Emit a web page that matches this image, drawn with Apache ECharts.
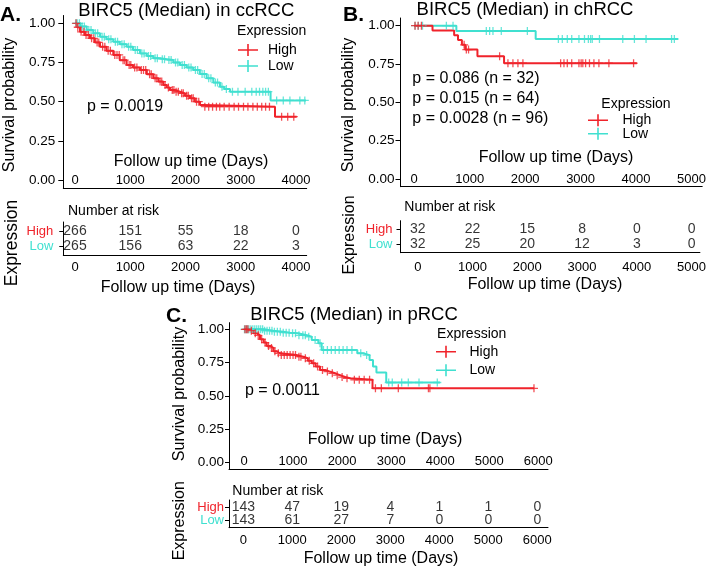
<!DOCTYPE html>
<html><head><meta charset="utf-8">
<script src="https://cdn.jsdelivr.net/npm/echarts@6/dist/echarts.min.js"></script>
<style>html,body{margin:0;padding:0;background:#fff}#c{width:709px;height:567px}</style>
</head><body><div id="c"></div>
<script>
// ================= DATA =================
// Panel A: ccRCC
const aHighT = [0,40,90,180,271,360,452,570,693,810,935,1050,1176,1300,1417,1510,1598,1660,1720,1800,1900,1990,2080,2170,2262,2320,3620];
const aHighS = [1,0.975,0.946,0.925,0.904,0.878,0.851,0.825,0.798,0.765,0.734,0.718,0.702,0.675,0.649,0.628,0.606,0.59,0.574,0.563,0.553,0.537,0.521,0.5,0.479,0.468,0.404];
const aHighEnd = 4013;
const aHighCens = [20,50,110,160,200,240,300,340,400,430,500,540,600,640,720,760,800,870,900,980,1010,1080,1120,1200,1240,1280,1350,1380,1450,1480,1540,1570,1630,1690,1760,1790,1830,1870,1930,1960,2020,2050,2110,2140,2200,2240,2350,2420,2490,2560,2620,2700,2790,2880,2960,3050,3130,3220,3300,3380,3450,3520,3740,3850,3960];
const aLowT = [0,100,212,330,452,570,693,810,935,1050,1176,1300,1417,1540,1659,1780,1900,2020,2141,2260,2383,2503,2624,2700,2805,3540];
const aLowS = [1,0.98,0.957,0.936,0.915,0.899,0.883,0.867,0.851,0.83,0.808,0.792,0.777,0.771,0.766,0.75,0.734,0.718,0.702,0.676,0.649,0.622,0.595,0.58,0.564,0.508];
const aLowEnd = 4180;
const aLowCens = [15,40,80,130,170,250,290,370,410,490,530,610,650,730,770,850,890,970,1010,1090,1130,1210,1250,1330,1370,1450,1490,1580,1620,1700,1740,1820,1860,1940,1980,2060,2100,2180,2220,2300,2340,2420,2460,2540,2580,2660,2740,2850,2950,3080,3200,3280,3340,3400,3450,3500,3650,3770,3890,4070,4160];
const aRiskTimes = [0,1000,2000,3000,4000];
const aRiskHigh = [266,151,55,18,0];
const aRiskLow = [265,156,63,22,3];
const aPText = 'p = 0.0019';

// Panel B: chRCC
const bHighT = [0,330,720,790,860,920,1140,1620];
const bHighS = [1,0.969,0.938,0.906,0.875,0.844,0.80,0.755];
const bHighEnd = 4014;
const bHighCens = [15,70,130,900,940,980,1540,1690,1780,1870,1960,2640,2700,2760,2840,2970,3010,3040,3090,3160,3240,3330,3510,3955];
const bLowT = [0,760,2190];
const bLowS = [1,0.966,0.913];
const bLowEnd = 4760;
const bLowCens = [15,75,150,580,700,1300,1360,1420,1570,2040,2600,2670,2760,2840,2970,3070,3140,3180,3210,3340,3760,3970,4180,4640,4690];
const bRiskTimes = [0,1000,2000,3000,4000,5000];
const bRiskHigh = [32,22,15,8,0,0];
const bRiskLow = [32,25,20,12,3,0];
const bPTexts = ['p = 0.086 (n = 32)','p = 0.015 (n = 64)','p = 0.0028 (n = 96)'];

// Panel C: pRCC
const cHighT = [0,120,190,260,326,400,462,530,598,666,734,1074,1209,1300,1380,1460,1550,1650,1753,1860,1957,2060,2161,2620];
const cHighS = [1,0.99,0.97,0.955,0.925,0.9,0.875,0.86,0.835,0.82,0.806,0.794,0.782,0.763,0.744,0.72,0.694,0.682,0.669,0.655,0.641,0.632,0.62,0.556];
const cHighEnd = 5918;
const cHighCens = [20,50,80,150,230,290,360,430,500,560,630,700,760,820,880,940,1000,1050,1120,1160,1250,1330,1420,1500,1600,1700,1800,1900,2000,2100,2250,2350,2450,2560,2680,2800,3146,3760,3790,5912];
const cLowT = [0,400,598,800,938,1100,1278,1380,1515,1584,2310,2430,2560,2630,2700,2900];
const cLowS = [1,0.99,0.982,0.975,0.97,0.955,0.944,0.92,0.895,0.845,0.82,0.806,0.77,0.72,0.675,0.60];
const cLowEnd = 3996;
const cLowCens = [10,40,70,100,140,180,220,260,300,340,380,420,470,520,570,620,680,740,800,860,920,990,1050,1120,1200,1250,1320,1450,1550,1620,1700,1780,1860,1940,2020,2100,2200,2380,2500,2950,3023,3215,3350,3568,3941];
const cRiskTimes = [0,1000,2000,3000,4000,5000,6000];
const cRiskHigh = [143,47,19,4,1,1,0];
const cRiskLow = [143,61,27,7,0,0,0];
const cPText = 'p = 0.0011';

const survTicks = [0,0.25,0.5,0.75,1];
const groupNames = ['High','Low'];
const groupRows = [2, 1];   // row positions in the risk table (High above Low)

// ================= STYLE / BUILD =================
const FONT = '"Liberation Sans", Arial, Helvetica, sans-serif';
const RED = '#F0232B', CYAN = '#40E0D0';
const PLUS = 'path://M4.2,0 L5.8,0 L5.8,4.2 L10,4.2 L10,5.8 L5.8,5.8 L5.8,10 L4.2,10 L4.2,5.8 L0,5.8 L0,4.2 L4.2,4.2 Z';
const LEG = 'path://M0,5.2 L9.2,5.2 L9.2,0 L10.8,0 L10.8,5.2 L20,5.2 L20,6.8 L10.8,6.8 L10.8,12 L9.2,12 L9.2,6.8 L0,6.8 Z';

function stepData(ts, ss, end){ const d = ts.map((t,i)=>[t, ss[i]]); d.push([end, ss[ss.length-1]]); return d; }
function survAt(ts, ss, t){ let s = ss[0]; for (let i=0;i<ts.length;i++){ if (ts[i] <= t) s = ss[i]; } return s; }
function censData(ts, ss, cs){ return cs.map(c => [c, survAt(ts, ss, c)]); }

const panels = [
  { plot:{left:63.3, top:15.5, width:243.4, height:172.3, min:-212, max:4194, ylabMargin:8, tick:5},
    table:{left:63.3, top:222, width:243.4, height:33, min:-212, max:4194, xlabMargin:6, ylabMargin:10},
    ticks:aRiskTimes, high:[aHighT,aHighS,aHighEnd,aHighCens], low:[aLowT,aLowS,aLowEnd,aLowCens],
    risk:[aRiskTimes,aRiskHigh,aRiskLow] },
  { plot:{left:400.5, top:18, width:303.5, height:168.7, min:-247, max:5192, ylabMargin:6, tick:5},
    table:{left:400.5, top:220.7, width:303.5, height:32, min:-315, max:5153, xlabMargin:8, ylabMargin:8},
    ticks:bRiskTimes, high:[bHighT,bHighS,bHighEnd,bHighCens], low:[bLowT,bLowS,bLowEnd,bLowCens],
    risk:[bRiskTimes,bRiskHigh,bRiskLow] },
  { plot:{left:229, top:322.65, width:319, height:146.3, min:-306, max:6198, ylabMargin:5, tick:4},
    table:{left:229, top:500, width:319, height:27.7, min:-292, max:6218, xlabMargin:6, ylabMargin:5},
    ticks:cRiskTimes, high:[cHighT,cHighS,cHighEnd,cHighCens], low:[cLowT,cLowS,cLowEnd,cLowCens],
    risk:[cRiskTimes,cRiskHigh,cRiskLow] }
];

const grid = [], xAxis = [], yAxis = [], series = [];
const axLine = {show:true, onZero:false, lineStyle:{color:'#000', width:1}};
panels.forEach((p, k) => {
  const gp = k*2, gt = k*2+1;
  const yp = k*3, yt = k*3+1, yt2 = k*3+2;
  grid.push({left:p.plot.left, top:p.plot.top, width:p.plot.width, height:p.plot.height});
  grid.push({left:p.table.left, top:p.table.top, width:p.table.width, height:p.table.height});
  xAxis.push({gridIndex:gp, type:'value', min:p.plot.min, max:p.plot.max, axisLine:axLine,
    axisTick:{show:false}, splitLine:{show:false},
    axisLabel:{inside:true, margin:1, hideOverlap:false, customValues:p.ticks, fontSize:13, color:'#000', fontFamily:FONT, formatter:v=>String(v)}});
  xAxis.push({gridIndex:gt, type:'value', min:p.table.min, max:p.table.max, axisLine:axLine,
    axisTick:{show:false}, splitLine:{show:false},
    axisLabel:{margin:p.table.xlabMargin, hideOverlap:false, customValues:p.ticks, fontSize:13, color:'#000', fontFamily:FONT, formatter:v=>String(v)}});
  yAxis.push({gridIndex:gp, type:'value', min:-0.05, max:1.05, axisLine:axLine, splitLine:{show:false},
    axisTick:{show:true, length:p.plot.tick, customValues:survTicks, lineStyle:{color:'#000'}},
    axisLabel:{margin:p.plot.ylabMargin, hideOverlap:false, customValues:survTicks, fontSize:13.5, color:'#000', fontFamily:FONT, formatter:v=>v.toFixed(2)}});
  // risk table: one y axis per group row so the two labels never compete
  [[0, RED, axLine], [1, CYAN, {show:false, onZero:false}]].forEach(([gi, col, line]) => {
    yAxis.push({gridIndex:gt, type:'value', position:'left', offset:0, min:0.4, max:2.6, axisLine:line, splitLine:{show:false},
      axisTick:{show:true, length:4, customValues:[groupRows[gi]], lineStyle:{color:'#000'}},
      axisLabel:{margin:p.table.ylabMargin, customValues:[groupRows[gi]], fontSize:13, color:col, fontFamily:FONT,
        formatter:()=>groupNames[gi]}});
  });
  [[p.low, CYAN, groupNames[1]], [p.high, RED, groupNames[0]]].forEach(([g, col, nm]) => {
    series.push({type:'line', name:nm, xAxisIndex:gp, yAxisIndex:yp, step:'end', symbol:'none', showSymbol:false,
      data:stepData(g[0], g[1], g[2]), color:col, lineStyle:{color:col, width:2}, itemStyle:{color:col}, z:2, silent:true});
    series.push({type:'scatter', name:nm, xAxisIndex:gp, yAxisIndex:yp, symbol:PLUS, symbolSize:8,
      data:censData(g[0], g[1], g[3]), itemStyle:{color:col}, z:3, silent:true});
  });
  [[p.risk[1], groupRows[0]], [p.risk[2], groupRows[1]]].forEach(([vals, yv]) => {
    series.push({type:'scatter', name:'risk'+k+'_'+yv, xAxisIndex:gt, yAxisIndex:yt, symbolSize:1,
      itemStyle:{color:'rgba(0,0,0,0)'}, silent:true,
      data:p.risk[0].map((t,i)=>[t, yv, vals[i]]),
      label:{show:true, position:'inside', formatter:q=>String(q.value[2]), fontSize:14, color:'#000', fontFamily:FONT}});
  });
});

function legendAt(left, top, iw, gap, pad){
  return {left, top, orient:'vertical', padding:0, itemWidth:iw, itemHeight:12, itemGap:gap, icon:LEG,
    data:groupNames, selectedMode:false,
    textStyle:{fontSize:14, color:'#000', fontFamily:FONT, lineHeight:12, padding:[0,0,0,pad]}};
}
const legend = [legendAt(238, 43, 20, 2, 5), legendAt(588, 113.3, 25, -0.6, 7), legendAt(436, 344.7, 27, 4.6, 5)];

function T(text, x, y, size, opt){
  opt = opt || {};
  return {type:'text', x, y, rotation:opt.rot||0, silent:true,
    style:{text, fontSize:size, fontFamily:FONT, fontWeight:opt.bold?'bold':'normal', fill:opt.color||'#000',
      align:opt.align||'center', verticalAlign:'middle'}};
}
const R = Math.PI/2;
const graphic = [
  T('A.', 0, 15, 21, {bold:true, align:'left'}),
  T('BIRC5 (Median) in ccRCC', 186.3, 11, 18.5),
  T('Survival probability', 10, 105, 16, {rot:R}),
  T('Expression', 271.7, 31, 14),
  T(aPText, 87, 107, 16, {align:'left'}),
  T('Follow up time (Days)', 191, 162, 16),
  T('Number at risk', 68, 210.7, 14, {align:'left'}),
  T('Expression', 12, 243, 17.5, {rot:R}),
  T('Follow up time (Days)', 178, 287.7, 16),

  T('B.', 343, 15, 21, {bold:true, align:'left'}),
  T('BIRC5 (Median) in chRCC', 525, 10, 18.5),
  T('Survival probability', 349, 105, 16, {rot:R}),
  T(bPTexts[0], 412.3, 78.7, 16, {align:'left'}),
  T(bPTexts[1], 412.3, 99, 16, {align:'left'}),
  T(bPTexts[2], 412.3, 118.3, 16, {align:'left'}),
  T('Expression', 636, 104.3, 14),
  T('Follow up time (Days)', 556, 157.3, 16),
  T('Number at risk', 404.3, 206.7, 14, {align:'left'}),
  T('Expression', 350, 235, 16, {rot:R}),
  T('Follow up time (Days)', 545, 284.3, 16),

  T('C.', 166, 316, 21, {bold:true, align:'left'}),
  T('BIRC5 (Median) in pRCC', 354, 315, 18.5),
  T('Survival probability', 180, 394, 16, {rot:R}),
  T('Expression', 471.7, 334, 14),
  T(cPText, 245, 390.7, 16, {align:'left'}),
  T('Follow up time (Days)', 385, 439.3, 16),
  T('Number at risk', 232.3, 490.7, 14, {align:'left'}),
  T('Expression', 180, 520.8, 16, {rot:R}),
  T('Follow up time (Days)', 381, 558.3, 16)
];

const chart = echarts.init(document.getElementById('c'), null, {renderer:'canvas'});
chart.setOption({animation:false, backgroundColor:'#fff', textStyle:{fontFamily:FONT},
  grid, xAxis, yAxis, series, legend, graphic});
</script></body></html>
